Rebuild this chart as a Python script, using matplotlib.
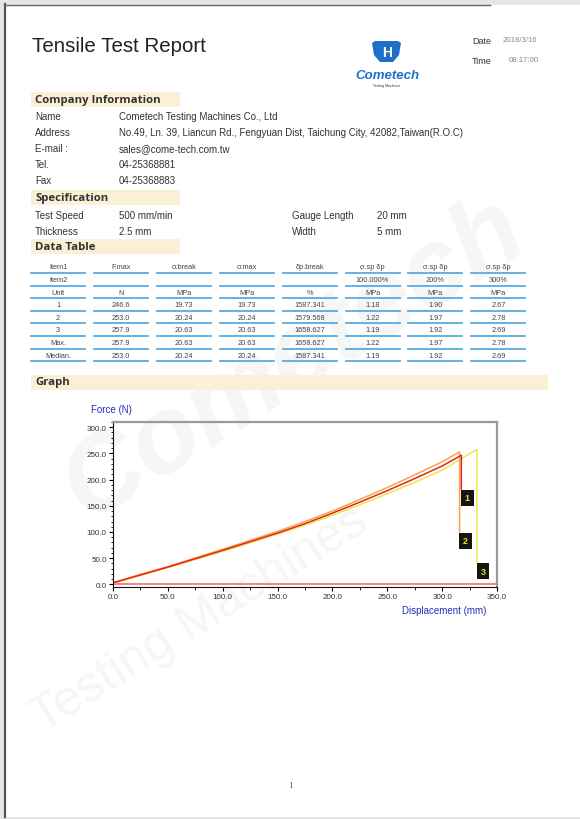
import matplotlib
matplotlib.use("Agg")
import matplotlib.pyplot as plt
from matplotlib.patches import Rectangle, Polygon
from matplotlib.ticker import MultipleLocator, FormatStrFormatter

# ---------------- data ----------------
report_date = "2018/3/16"
report_time = "08:17:00"

company_labels = ["Name", "Address", "E-mail :", "Tel.", "Fax"]
company_values = ["Cometech Testing Machines Co., Ltd",
                  "No.49, Ln. 39, Liancun Rd., Fengyuan Dist, Taichung City, 42082,Taiwan(R.O.C)",
                  "sales@come-tech.com.tw", "04-25368881", "04-25368883"]

spec_left_labels = ["Test Speed", "Thickness"]
spec_left_values = ["500 mm/min", "2.5 mm"]
spec_right_labels = ["Gauge Length", "Width"]
spec_right_values = ["20 mm", "5 mm"]

table_item1 = ["Item1", "F.max", "σ.break", "σ.max", "δp.break", "σ.sp δp", "σ.sp δp", "σ.sp δp"]
table_item2 = ["Item2", "", "", "", "", "100.000%", "200%", "300%"]
table_unit = ["Unit", "N", "MPa", "MPa", "%", "MPa", "MPa", "MPa"]
table_rows = [
    ["1", "246.6", "19.73", "19.73", "1587.341", "1.18", "1.90", "2.67"],
    ["2", "253.0", "20.24", "20.24", "1579.568", "1.22", "1.97", "2.78"],
    ["3", "257.9", "20.63", "20.63", "1658.627", "1.19", "1.92", "2.69"],
    ["Max.", "257.9", "20.63", "20.63", "1658.627", "1.22", "1.97", "2.78"],
    ["Median.", "253.0", "20.24", "20.24", "1587.341", "1.19", "1.92", "2.69"],
]

curve_names = ["1", "2", "3"]
disp_1 = [0, 25, 50, 100, 150, 175, 200, 225, 250, 275, 300, 317.5, 317.5]
force_1 = [3, 18, 33, 65, 98, 116, 136, 157, 179, 202, 226, 246.6, 182]
disp_2 = [0, 25, 50, 100, 150, 175, 200, 225, 250, 275, 300, 315.9, 315.9]
force_2 = [3, 19, 34, 67, 101, 120, 140, 162, 185, 209, 234, 253.0, 100]
disp_3 = [0, 25, 50, 100, 150, 175, 200, 225, 250, 275, 300, 331.7, 331.7]
force_3 = [2, 17, 32, 63, 96, 113, 132, 152, 173, 195, 218, 257.9, 42]

x_ticks = [0, 50, 100, 150, 200, 250, 300, 350]
y_ticks = [0, 50, 100, 150, 200, 250, 300]

# ---------------- figure ----------------
W, H = 580, 820
fig = plt.figure(figsize=(W / 100, H / 100), dpi=100)
fig.patch.set_facecolor("#e6e6e6")
doc = fig.add_axes([0, 0, 1, 1])
doc.set_xlim(0, W)
doc.set_ylim(H, 0)
doc.axis("off")

SANS = ["Liberation Sans", "DejaVu Sans"]
HEAD = ["Open Sans", "DejaVu Sans"]

# page
doc.add_patch(Rectangle((5, 6), W - 5, 812, facecolor="white", edgecolor="none", zorder=0))
doc.plot([4.5, 4.5], [5, 818], color="#555555", lw=1.6, zorder=1)
doc.plot([4.5, 490], [5.5, 5.5], color="#666666", lw=1.0, zorder=1)

# watermark
doc.text(295, 360, "Cometech", fontsize=78, fontweight="bold", style="italic",
         color="#f6f6f6", rotation=32, ha="center", va="center", family=SANS, zorder=0.5)
doc.text(200, 620, "Testing Machines", fontsize=36, color="#f6f6f6", rotation=32,
         ha="center", va="center", family=SANS, zorder=0.5)

# title
doc.text(32, 47, "Tensile Test Report", fontsize=14.8, color="#222222", ha="left",
         va="center", family=SANS)
doc.text(472, 41, "Date", fontsize=6.5, color="#333333", va="center", family=SANS)
doc.text(503, 41, report_date, fontsize=5.6, color="#888888", va="center", family=SANS)
doc.text(472, 61, "Time", fontsize=6.5, color="#333333", va="center", family=SANS)
doc.text(509, 61, report_time, fontsize=5.6, color="#888888", va="center", family=SANS)

# logo
blue = "#1f6fc8"
doc.add_patch(Polygon([(372, 44), (375, 42), (398, 42), (401, 44), (399, 56),
                       (393, 63), (380, 63), (374, 56)], closed=True,
                      facecolor=blue, edgecolor="none", zorder=3))
doc.text(387, 53, "H", fontsize=10, fontweight="bold", color="white", ha="center",
         va="center", family=SANS, zorder=4)
doc.text(387, 76, "Cometech", fontsize=9.5, fontweight="bold", style="italic",
         color=blue, ha="center", va="center", family=SANS, zorder=3)
doc.text(387, 86, "Testing Machines", fontsize=2.5, color="#333333", ha="center",
         va="center", family=SANS, zorder=3)

# section headers
beige = "#fbefd5"
def header(y, text, x1=180):
    doc.add_patch(Rectangle((31, y - 7.5), x1 - 31, 15, facecolor=beige,
                            edgecolor="none", zorder=1))
    doc.text(35, y, text, fontsize=8.2, fontweight="bold", color="#333333",
             va="center", ha="left", family=HEAD, zorder=2)

header(100, "Company Information")
header(198, "Specification")
header(247, "Data Table")
header(383, "Graph", x1=548)

fs = 7.0
for i, (lab, val) in enumerate(zip(company_labels, company_values)):
    y = 117 + 16 * i
    doc.text(35, y, lab, fontsize=fs, color="#333333", va="center", family=SANS, zorder=2)
    doc.text(119, y, val, fontsize=fs, color="#333333", va="center", family=SANS, zorder=2)

for i in range(2):
    y = 216 + 16 * i
    doc.text(35, y, spec_left_labels[i], fontsize=fs, color="#333333", va="center", family=SANS, zorder=2)
    doc.text(119, y, spec_left_values[i], fontsize=fs, color="#333333", va="center", family=SANS, zorder=2)
    doc.text(292, y, spec_right_labels[i], fontsize=fs, color="#333333", va="center", family=SANS, zorder=2)
    doc.text(377, y, spec_right_values[i], fontsize=fs, color="#333333", va="center", family=SANS, zorder=2)

# data table
col_x = [58 + 62.9 * k for k in range(8)]
half_w = 27
all_rows = [table_item1, table_item2, table_unit] + table_rows
for r, row in enumerate(all_rows):
    y = 268 + 12.6 * r
    for c, cell in enumerate(row):
        doc.text(col_x[c], y, cell, fontsize=5.3, color="#444444", ha="center",
                 va="center", family=SANS, zorder=2)
        doc.plot([col_x[c] - half_w, col_x[c] + half_w], [y + 6, y + 6],
                 color="#5aaae0", lw=1.3, zorder=2)

# ---------------- chart ----------------
left, right, top, bottom = 113, 497, 423, 588
ax = fig.add_axes([left / W, 1 - bottom / H, (right - left) / W, (bottom - top) / H])
ax.set_facecolor("none")
ax.set_xlim(0, 350)
ax.set_ylim(-5, 310)

ax.axhline(0, color="#f08a8a", lw=1.5, zorder=1)
colors = ["#e8231f", "#f7a548", "#e9e84a"]
series = [(disp_1, force_1), (disp_2, force_2), (disp_3, force_3)]
for (dx, fy), col in list(zip(series, colors))[::-1]:
    ax.plot(dx, fy, color=col, lw=1.1, zorder=2)

for name, (dx, fy), col in zip(curve_names, series, colors):
    ax.annotate(name, xy=(dx[-1], fy[-1]), xytext=(2.5, -3), textcoords="offset points",
                ha="left", va="top", fontsize=6.5, fontweight="bold", color="#f0e020",
                family=SANS, zorder=5,
                bbox=dict(boxstyle="square,pad=0.4", facecolor="#151515", edgecolor="none"))

ax.set_xticks(x_ticks)
ax.set_yticks(y_ticks)
ax.xaxis.set_minor_locator(MultipleLocator(25))
ax.yaxis.set_minor_locator(MultipleLocator(10))
ax.xaxis.set_major_formatter(FormatStrFormatter("%.1f"))
ax.yaxis.set_major_formatter(FormatStrFormatter("%.1f"))
ax.tick_params(which="major", length=3, width=0.8, labelsize=5.8, labelcolor="#333333", pad=1.5)
ax.tick_params(which="minor", length=1.8, width=0.6)
for lab in ax.get_xticklabels() + ax.get_yticklabels():
    lab.set_family(SANS)
ax.spines["left"].set_color("#111111")
ax.spines["bottom"].set_color("#111111")
ax.spines["top"].set_color("#9a9a9a")
ax.spines["right"].set_color("#9a9a9a")
ax.spines["top"].set_linewidth(1.6)
ax.spines["right"].set_linewidth(1.6)

doc.text(91, 410, "Force (N)", fontsize=7, color="#2a2ac0", ha="left", va="center", family=SANS)
doc.text(444, 611, "Displacement (mm)", fontsize=7, color="#2a2ac0", ha="center", va="center", family=SANS)

doc.text(290, 786, "1", fontsize=6.5, color="#555555", ha="center", va="center",
         family=["Liberation Serif", "DejaVu Serif"])

fig.savefig("out.png", dpi=100, facecolor=fig.get_facecolor())
